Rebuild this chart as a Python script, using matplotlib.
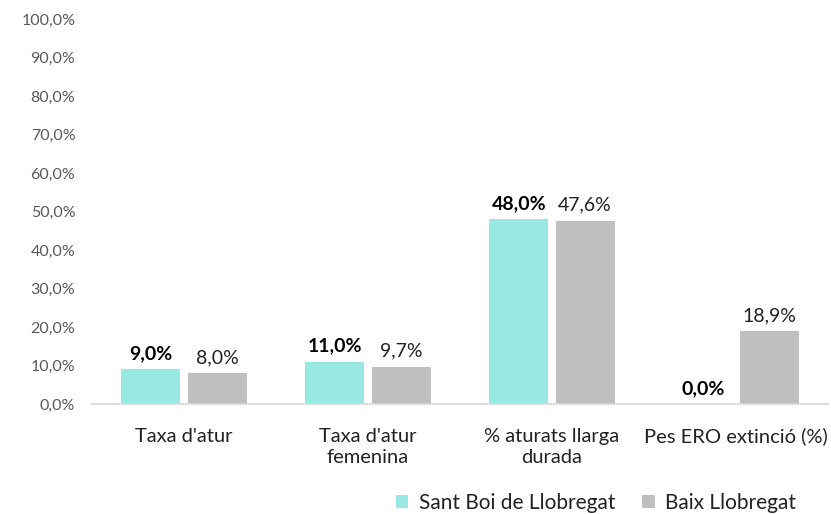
import numpy as np
import matplotlib.pyplot as plt
from matplotlib.ticker import FuncFormatter

plt.rcParams['font.family'] = ['Lato', 'DejaVu Sans']

categories = ["Taxa d'atur", "Taxa d'atur\nfemenina", "% aturats llarga\ndurada", "Pes ERO extinció (%)"]
sant_boi = [9.0, 11.0, 48.0, 0.0]
baix = [8.0, 9.7, 47.6, 18.9]
series_names = ["Sant Boi de Llobregat", "Baix Llobregat"]

cyan = '#9AE8E4'
grey = '#BFBFBF'


def pct(v):
    return ('%.1f%%' % v).replace('.', ',')


fig = plt.figure(figsize=(8.31, 5.14), dpi=100)
ax = fig.add_axes([0.1107, 0.214, 0.8857, 0.749])

x = np.arange(len(categories))
w = 0.32
off = 0.18
b1 = ax.bar(x - off, sant_boi, w, color=cyan, label=series_names[0])
b2 = ax.bar(x + off, baix, w, color=grey, label=series_names[1])

for rect, v in zip(b1, sant_boi):
    ax.annotate(pct(v), (rect.get_x() + rect.get_width() / 2, v), xytext=(0, 5),
                textcoords='offset points', ha='center', va='bottom',
                fontsize=14, fontweight='bold', color='black')
for rect, v in zip(b2, baix):
    ax.annotate(pct(v), (rect.get_x() + rect.get_width() / 2, v), xytext=(0, 5),
                textcoords='offset points', ha='center', va='bottom',
                fontsize=14, color='#222222')

ax.set_xlim(-0.5, len(categories) - 0.5)
ax.set_ylim(0, 100)
ax.set_yticks(np.arange(0, 101, 10))
ax.yaxis.set_major_formatter(FuncFormatter(lambda v, p: pct(v)))
ax.set_xticks(x)
ax.set_xticklabels(categories, fontsize=14.5, color='#222222', linespacing=1.3)
ax.tick_params(axis='y', length=0, pad=12, labelsize=11.5, labelcolor='#595959')
ax.tick_params(axis='x', length=0, pad=17)

for s in ['top', 'right', 'left']:
    ax.spines[s].set_visible(False)
ax.spines['bottom'].set_color('#D9D9D9')
ax.spines['bottom'].set_linewidth(1.2)

leg = fig.legend(handles=[b1, b2], labels=series_names, loc='center',
                 bbox_to_anchor=(0.717, 0.021), ncol=2, frameon=False,
                 fontsize=15, handlelength=0.6, handleheight=0.6,
                 handletextpad=0.5, columnspacing=1.3)
for t in leg.get_texts():
    t.set_color('#222222')

fig.savefig('out.png', dpi=100)
